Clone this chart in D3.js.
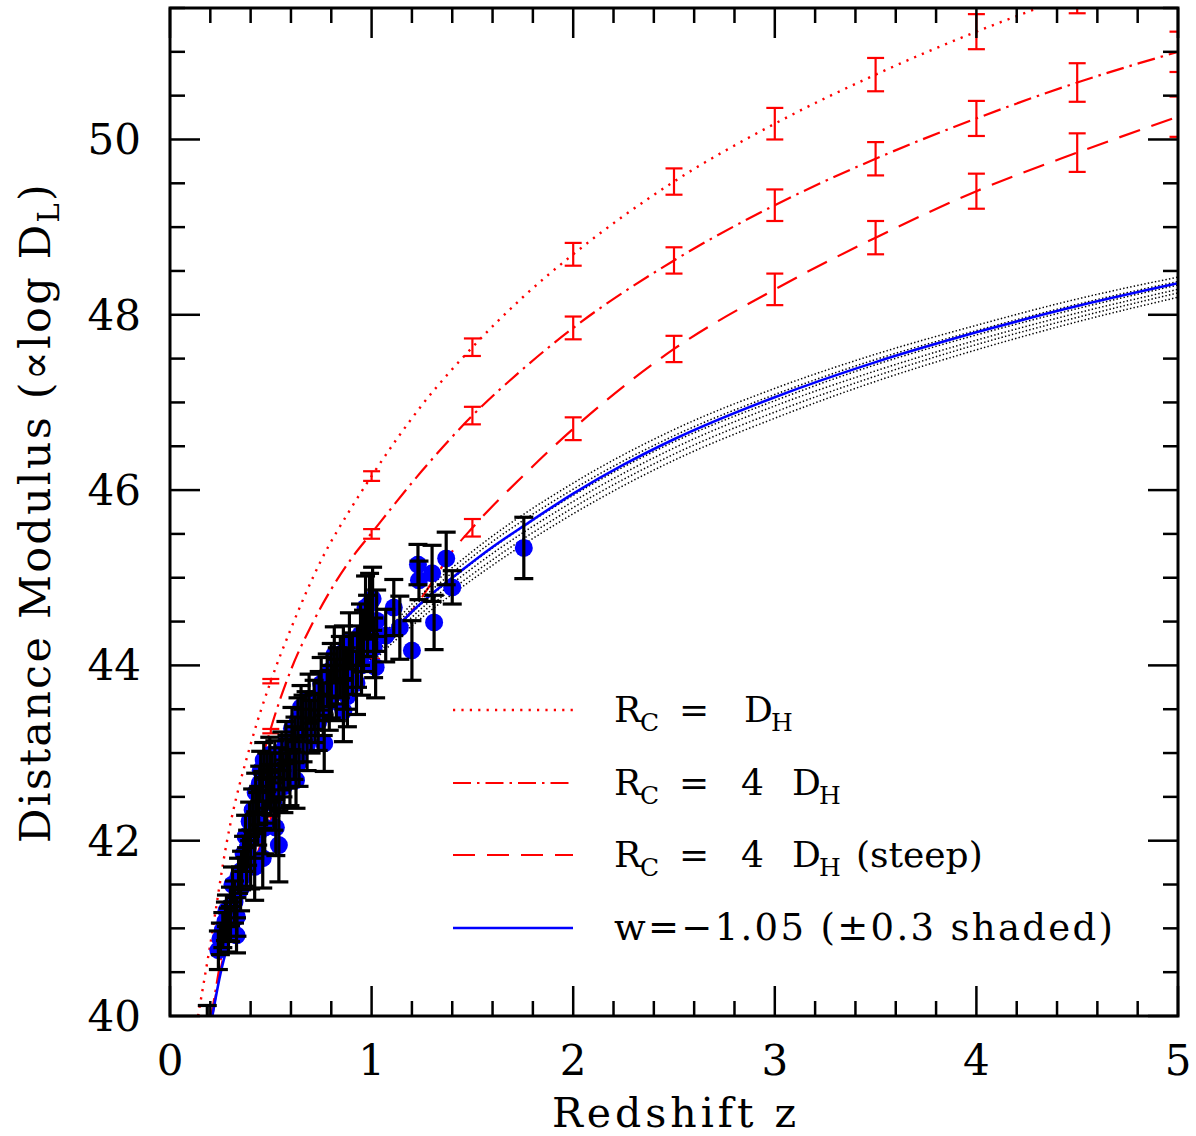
<!DOCTYPE html>
<html><head><meta charset="utf-8">
<script src="https://cdn.jsdelivr.net/npm/d3@7/dist/d3.min.js"></script>
<style>body{margin:0;background:#fff}svg{display:block}</style>
</head><body>
<svg id="c" width="1196" height="1136"></svg>
<script>
// ---------- data ----------
const xTicks = [0, 1, 2, 3, 4, 5];
const yTicks = [40, 42, 44, 46, 48, 50];

// model curves
const dotZ  = [0.139,0.2,0.283,0.4,0.5,0.6,0.75,0.9,1.0,1.25,1.5,1.75,2.0,2.5,3.0,3.5,4.0,4.5,5.0];
const dotMu = [40.0,40.82,42.0,43.1,43.82,44.42,45.2,45.8,46.16,46.97,47.63,48.2,48.69,49.52,50.18,50.74,51.23,51.66,52.05];
const ddZ   = [0.205,0.25,0.3,0.35,0.42,0.5,0.6,0.7,0.8,0.9,1.0,1.25,1.5,1.75,2.0,2.5,3.0,3.5,4.0,4.5,5.0];
const ddMu  = [40.0,40.62,41.28,41.88,42.6,43.28,43.95,44.45,44.87,45.22,45.51,46.22,46.85,47.38,47.85,48.62,49.25,49.78,50.24,50.65,51.0];
const dashZ = [0.21,0.25,0.3,0.4,0.5,0.6,0.7,0.8,0.9,1.0,1.1,1.2,1.3,1.4,1.5,1.75,2.0,2.5,3.0,3.5,4.0,4.5,5.0];
const dashMu= [40.0,40.52,40.97,41.65,42.23,42.72,43.14,43.5,43.83,44.13,44.38,44.62,44.95,45.3,45.57,46.16,46.7,47.61,48.29,48.88,49.41,49.85,50.26];
const blueZ = [0.21,0.25,0.3,0.4,0.5,0.6,0.7,0.8,0.9,1.0,1.15,1.3,1.4,1.6,1.76,2.0,2.25,2.5,3.0,3.5,4.0,4.5,5.0];
const blueMu= [40.0,40.48,40.92,41.62,42.2,42.7,43.12,43.48,43.82,44.12,44.5,44.82,45.0,45.35,45.6,45.96,46.29,46.58,47.06,47.46,47.8,48.1,48.36];

// model error bars
const barZ      = [0.5,1.0,1.5,2.0,2.5,3.0,3.5,4.0,4.5,5.0];
const barDotMu  = [43.82,46.16,47.63,48.69,49.52,50.18,50.74,51.23,51.66,52.05];
const barDdMu   = [43.25,45.50,46.85,47.85,48.62,49.25,49.78,50.24,50.65,51.0];
const barDashMu = [42.25,44.13,45.57,46.70,47.61,48.29,48.88,49.41,49.85,50.26];
const barErr    = [0.025,0.055,0.1,0.13,0.15,0.18,0.19,0.2,0.22,0.23];

// w = -1.05 +/- 0.3 family (shaded band)
const bandZ  = [0.6,0.8,1.0,1.2,1.5,2.0,2.5,3.0,3.5,4.0,4.5,5.0];
const bandA  = [42.71,43.51,44.18,44.70,45.30,46.08,46.69,47.16,47.55,47.88,48.18,48.43];
const bandB  = [42.70,43.49,44.15,44.65,45.24,46.01,46.62,47.09,47.49,47.82,48.12,48.38];
const bandC  = [42.70,43.48,44.12,44.60,45.17,45.94,46.55,47.02,47.43,47.77,48.07,48.34];
const bandD  = [42.69,43.46,44.08,44.55,45.11,45.87,46.48,46.96,47.36,47.71,48.02,48.29];
const bandE  = [42.69,43.45,44.05,44.50,45.04,45.80,46.41,46.89,47.30,47.66,47.97,48.25];
const bandF  = [42.68,43.43,44.02,44.45,44.98,45.73,46.34,46.82,47.24,47.60,47.92,48.20];

// supernova data
const snZ = [0.185,0.240,0.250,0.262,0.275,0.290,0.300,0.310,0.320,0.330,0.332,0.340,0.355,0.365,0.375,0.385,0.395,0.400,0.410,0.420,
 0.425,0.435,0.445,0.450,0.460,0.465,0.470,0.480,0.490,0.495,0.505,0.515,0.525,0.540,0.545,0.555,0.565,0.575,0.585,0.595,
 0.605,0.615,0.625,0.635,0.650,0.660,0.675,0.690,0.700,0.715,0.735,0.750,0.765,0.780,0.790,0.800,0.815,0.825,0.845,0.860,
 0.875,0.890,0.905,0.925,0.945,0.960,0.970,0.990,1.005,1.020,1.025,1.070,1.110,1.140,1.200,1.230,1.235,1.300,1.310,1.370,
 1.400,1.755,0.280,0.300,0.350,0.380,0.420,0.440,0.460,0.480,0.500,0.520,0.540,0.560,0.580,0.620,0.640,0.660,0.680,0.720,
 0.740,0.760,0.800,0.830,0.860,0.880,0.930,0.950,0.980,1.010];
const snMu = [39.90,40.75,40.88,40.98,41.08,40.98,41.25,41.50,41.30,40.92,41.13,41.60,41.66,41.85,42.05,41.92,42.22,41.75,42.35,41.70,
 42.55,42.25,42.65,42.80,41.80,42.92,42.15,42.45,42.62,42.98,42.72,42.42,42.15,41.95,42.82,43.02,42.62,43.12,42.88,42.70,
 43.28,43.00,42.69,43.38,43.52,43.20,43.45,43.62,43.30,43.55,43.35,43.79,43.11,43.83,43.60,43.95,44.12,43.72,43.98,43.48,
 43.85,44.28,44.02,43.80,44.35,44.28,44.66,44.70,44.76,43.98,44.51,44.34,44.66,44.43,44.17,45.15,44.97,45.05,44.49,45.22,
 44.89,45.34,41.20,41.05,41.45,41.70,42.05,42.40,42.55,42.78,42.55,42.90,42.60,42.75,42.95,43.15,42.90,43.40,43.10,43.40,
 43.65,43.50,43.70,43.88,44.15,43.65,44.10,44.00,44.45,44.20];
const snErr = [0.22,0.22,0.18,0.20,0.22,0.25,0.22,0.20,0.24,0.20,0.22,0.20,0.22,0.20,0.24,0.20,0.22,0.30,0.24,0.38,
 0.22,0.30,0.20,0.22,0.34,0.20,0.30,0.25,0.25,0.20,0.28,0.30,0.32,0.42,0.24,0.22,0.30,0.24,0.28,0.30,
 0.24,0.30,0.32,0.25,0.25,0.30,0.25,0.28,0.30,0.28,0.32,0.30,0.32,0.30,0.34,0.30,0.32,0.35,0.35,0.35,
 0.35,0.32,0.35,0.36,0.35,0.35,0.36,0.35,0.36,0.35,0.35,0.30,0.32,0.36,0.34,0.23,0.22,0.32,0.31,0.30,
 0.19,0.35,0.18,0.20,0.25,0.22,0.25,0.22,0.24,0.22,0.26,0.24,0.26,0.25,0.25,0.26,0.28,0.26,0.30,0.28,
 0.28,0.30,0.30,0.32,0.30,0.35,0.35,0.34,0.35,0.34];

const legendLabels = ["Rc = DH", "Rc = 4 DH", "Rc = 4 DH (steep)", "w=\u22121.05 (\u00b10.3 shaded)"];

// ---------- drawing ----------
const svg = d3.select("#c");
const X0 = 170, X1 = 1178, Y0 = 8, Y1 = 1016;
const x = d3.scaleLinear().domain([0, 5]).range([X0, X1]);
const y = d3.scaleLinear().domain([40, 51.5]).range([Y1, Y0]);
const RED = "#ff0000", BLUE = "#0000ff";
const FONT = "'DejaVu Serif', serif";

svg.append("rect").attr("width", 1196).attr("height", 1136).attr("fill", "#fff");
svg.append("defs").append("clipPath").attr("id", "clip")
  .append("rect").attr("x", X0).attr("y", Y0).attr("width", X1 - X0).attr("height", Y1 - Y0);
const plot = svg.append("g").attr("clip-path", "url(#clip)");

const line = d3.line().x(d => x(d[0])).y(d => y(d[1])).curve(d3.curveMonotoneX);
const zip = (a, b) => a.map((v, i) => [v, b[i]]);

const dotStyle = {dash: "2.2,6.2", w: 2.4};
const ddStyle = {dash: "18,6,2.5,6", w: 2.2};
const dashStyle = {dash: "22,12", w: 2.2};

function curve(zs, ms, color, st) {
  plot.append("path").attr("d", line(zip(zs, ms))).attr("fill", "none")
    .attr("stroke", color).attr("stroke-width", st.w)
    .attr("stroke-dasharray", st.dash || null);
}
curve(dotZ, dotMu, RED, dotStyle);
curve(ddZ, ddMu, RED, ddStyle);
curve(dashZ, dashMu, RED, dashStyle);

function bars(zs, ms, es, color, w, cap) {
  const g = plot.append("g").attr("stroke", color).attr("stroke-width", w).attr("fill", "none");
  zs.forEach((z, i) => {
    const cx = x(z), top = y(ms[i] + es[i]), bot = y(ms[i] - es[i]);
    g.append("line").attr("x1", cx).attr("x2", cx).attr("y1", top).attr("y2", bot);
    g.append("line").attr("x1", cx - cap).attr("x2", cx + cap).attr("y1", top).attr("y2", top);
    g.append("line").attr("x1", cx - cap).attr("x2", cx + cap).attr("y1", bot).attr("y2", bot);
  });
}
bars(barZ, barDotMu, barErr, RED, 2.2, 8.5);
bars(barZ, barDdMu, barErr, RED, 2.2, 8.5);
bars(barZ, barDashMu, barErr, RED, 2.2, 8.5);

[bandA, bandB, bandC, bandD, bandE, bandF].forEach(b => {
  plot.append("path").attr("d", line(zip(bandZ, b))).attr("fill", "none")
    .attr("stroke", "#000").attr("stroke-width", 1.5).attr("stroke-dasharray", "1.4,2.2");
});
curve(blueZ, blueMu, BLUE, {w: 2.6});

// data points
plot.append("g").selectAll("circle").data(snZ).join("circle")
  .attr("cx", (d) => x(d)).attr("cy", (d, i) => y(snMu[i])).attr("r", 9).attr("fill", BLUE);
bars(snZ, snMu, snErr, "#000", 3.2, 9.5);

// ---------- frame & ticks ----------
const fr = svg.append("g").attr("stroke", "#000").attr("stroke-width", 2.5);
for (let v = 0; v <= 5.0001; v += 0.2) {
  const vv = Math.round(v * 10) / 10;
  const major = Math.abs(vv - Math.round(vv)) < 1e-6;
  const L = major ? 30 : 15;
  fr.append("line").attr("x1", x(vv)).attr("x2", x(vv)).attr("y1", Y1).attr("y2", Y1 - L);
  fr.append("line").attr("x1", x(vv)).attr("x2", x(vv)).attr("y1", Y0).attr("y2", Y0 + L);
}
for (let v = 40; v <= 51.5001; v += 0.5) {
  const major = Math.abs(v / 2 - Math.round(v / 2)) < 1e-6;
  const L = major ? 30 : 15;
  fr.append("line").attr("y1", y(v)).attr("y2", y(v)).attr("x1", X0).attr("x2", X0 + L);
  fr.append("line").attr("y1", y(v)).attr("y2", y(v)).attr("x1", X1).attr("x2", X1 - L);
}
svg.append("rect").attr("x", X0).attr("y", Y0).attr("width", X1 - X0).attr("height", Y1 - Y0)
  .attr("fill", "none").attr("stroke", "#000").attr("stroke-width", 3);

// tick labels
svg.append("g").selectAll("text").data(xTicks).join("text")
  .attr("x", d => x(d)).attr("y", 1075).attr("text-anchor", "middle")
  .attr("font-family", FONT).attr("font-size", 42).text(d => d);
svg.append("g").selectAll("text").data(yTicks).join("text")
  .attr("x", 141).attr("y", d => y(d) + 15).attr("text-anchor", "end")
  .attr("font-family", FONT).attr("font-size", 42).text(d => d);

// axis titles
svg.append("text").attr("x", x(2.5) + 2).attr("y", 1127).attr("text-anchor", "middle")
  .attr("font-family", FONT).attr("font-size", 41).attr("letter-spacing", 4).text("Redshift z");
const yl = svg.append("text").attr("transform", "translate(50,843) rotate(-90)")
  .attr("font-family", FONT).attr("font-size", 43).attr("letter-spacing", 2.2);
yl.append("tspan").text("Distance Modulus (\u221dlog D");
yl.append("tspan").attr("dy", 9).attr("font-size", 29).text("L");
yl.append("tspan").attr("dy", -9).text(")");

// ---------- legend ----------
const legY = [710, 783, 855, 928];
const legStyles = [{c: RED, s: dotStyle}, {c: RED, s: ddStyle}, {c: RED, s: dashStyle}, {c: BLUE, s: {w: 2.6}}];
legStyles.forEach((L, i) => {
  svg.append("line").attr("x1", 453).attr("x2", 573).attr("y1", legY[i]).attr("y2", legY[i])
    .attr("stroke", L.c).attr("stroke-width", L.s.w).attr("stroke-dasharray", L.s.dash || null);
});
function piece(t, xx, yy, size) {
  svg.append("text").attr("x", xx).attr("y", yy).attr("font-family", FONT)
    .attr("font-size", size).text(t);
}
function rcLabel(i, withFour, extra) {
  const b = legY[i] + 12;
  piece("R", 614, b, 36);
  piece("C", 640, b + 9, 25);
  piece("=", 679, b, 36);
  if (withFour) {
    piece("4", 741, b, 36);
    piece("D", 792, b, 36);
    piece("H", 819, b + 9, 25);
  } else {
    piece("D", 744, b, 36);
    piece("H", 771, b + 9, 25);
  }
  if (extra) piece(extra, 856, b, 36);
}
rcLabel(0, false, null);
rcLabel(1, true, null);
rcLabel(2, true, "(steep)");
svg.append("text").attr("x", 614).attr("y", legY[3] + 12).attr("font-family", FONT)
  .attr("font-size", 37).attr("textLength", 499).attr("lengthAdjust", "spacing")
  .text(legendLabels[3]);
</script>
</body></html>
